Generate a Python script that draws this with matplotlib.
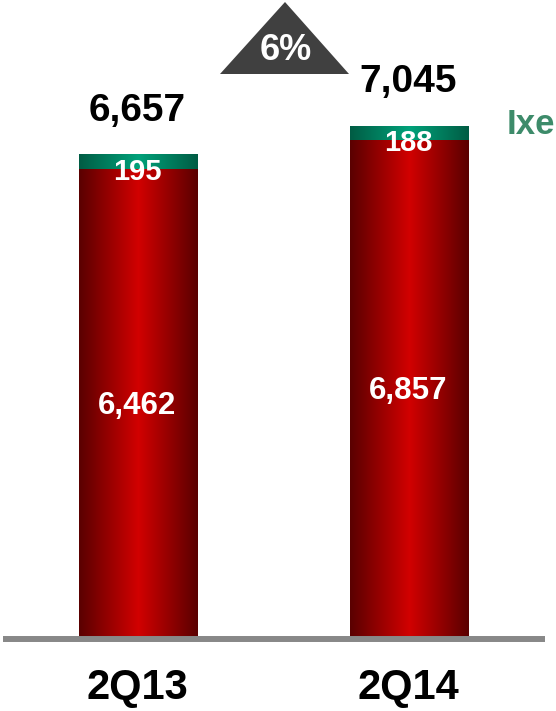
import numpy as np
import matplotlib
matplotlib.use('Agg')
import matplotlib.pyplot as plt
from matplotlib.colors import LinearSegmentedColormap
from matplotlib.patches import Polygon

plt.rcParams['font.family'] = ['Liberation Sans', 'DejaVu Sans']

periods = ['2Q13', '2Q14']
banorte = [6462, 6857]
ixe = [195, 188]
totals = [6657, 7045]
growth = '6%'
series_label = 'Ixe'

red_cmap = LinearSegmentedColormap.from_list('r', ['#5a0000', '#d20000', '#5a0000'])
green_cmap = LinearSegmentedColormap.from_list('g', ['#005c44', '#00a27a', '#005c44'])

fig = plt.figure(figsize=(5.56, 7.11), dpi=100)
ax = fig.add_axes([0, 0, 1, 1])
ax.set_xlim(-0.5111, 1.5406)
ax.set_ylim(-1006, 8793)
ax.axis('off')

width = 0.439
grad = np.linspace(0, 1, 256).reshape(1, -1)

for i in range(len(periods)):
    x0 = i - width / 2
    x1 = i + width / 2
    ax.imshow(grad, cmap=red_cmap, aspect='auto', extent=(x0, x1, 0, banorte[i]),
              interpolation='bilinear', zorder=2)
    ax.imshow(grad, cmap=green_cmap, aspect='auto',
              extent=(x0, x1, banorte[i], banorte[i] + ixe[i]),
              interpolation='bilinear', zorder=2)

    ax.annotate(f'{banorte[i]:,}', (i, banorte[i] / 2), xytext=(-1, -1.5),
                textcoords='offset points', color='white', fontsize=22.5,
                fontweight='bold', ha='center', va='center', zorder=3)
    ax.annotate(f'{ixe[i]}', (i, banorte[i]), xytext=(-1, -2), textcoords='offset points',
                color='white', fontsize=21, fontweight='bold', ha='center', va='center', zorder=3)
    ax.annotate(f'{totals[i]:,}', (i, totals[i]), xytext=(-1, 32), textcoords='offset points',
                color='black', fontsize=28, fontweight='bold', ha='center', va='center')
    ax.annotate(periods[i], (i, 0), xytext=(-1, -36), textcoords='offset points',
                color='black', fontsize=30, fontweight='bold', ha='center', va='center')

# baseline
ax.plot([-0.5, 1.5], [-14, -14], color='#888888', lw=4.3, zorder=4, solid_capstyle='butt')

# growth triangle
tri = Polygon([(220 / 556, 1 - 74 / 711), (349 / 556, 1 - 74 / 711), (285 / 556, 1 - 2 / 711)],
              closed=True, transform=ax.transAxes, facecolor='#404040', edgecolor='none')
ax.add_patch(tri)
ax.text(286 / 556, 1 - 50 / 711, growth, transform=ax.transAxes, color='white',
        fontsize=26, fontweight='bold', ha='center', va='center')

ax.text(507 / 556, 1 - 125 / 711, series_label, transform=ax.transAxes, color='#3d8b6a',
        fontsize=25, fontweight='bold', ha='left', va='center')

fig.savefig('out.png', dpi=100)
